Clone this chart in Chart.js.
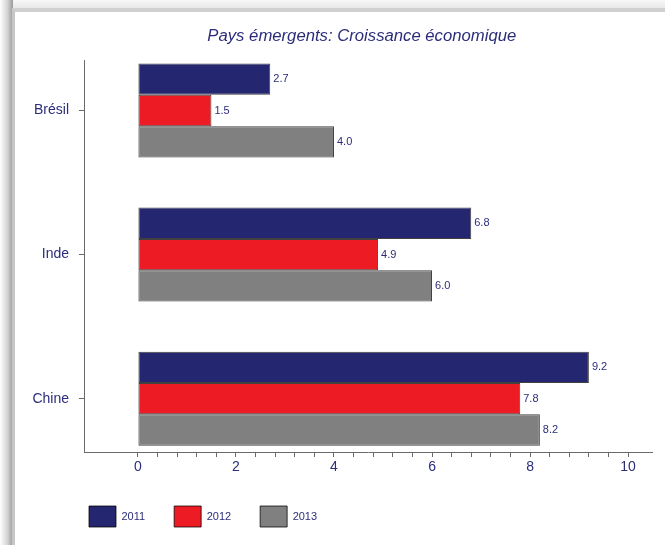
<!DOCTYPE html>
<html>
<head>
<meta charset="utf-8">
<script src="https://cdn.jsdelivr.net/npm/chart.js@4/dist/chart.umd.min.js"></script>
<style>
  html, body { margin:0; padding:0; background:#ffffff; width:665px; height:545px; overflow:hidden; }
  #topband { position:absolute; left:0; top:0; width:665px; height:9px;
    background:linear-gradient(to bottom,#f7f7f7,#e6e6e6); }
  #leftband { position:absolute; left:0; top:0; width:13px; height:545px;
    background:linear-gradient(to right,#ffffff,#d6d6d6 55%,#9a9a9a); }
  #panel { position:absolute; left:12px; top:8px; width:650px; height:545px; background:#ffffff;
    border-top:4px solid #d0d0d0; border-left:3px solid #c6c6c6; border-right:1px solid #dcdcdc; }
  #wrap { position:absolute; left:0; top:0; width:665px; height:545px; }
</style>
</head>
<body>
<div id="topband"></div>
<div id="leftband"></div>
<div id="panel"></div>
<div id="wrap"><canvas id="c" width="665" height="545"></canvas></div>
<script>
const categories = ["Brésil", "Inde", "Chine"];
const seriesNames = ["2011", "2012", "2013"];
const values2011 = [2.7, 6.8, 9.2];
const values2012 = [1.5, 4.9, 7.8];
const values2013 = [4.0, 6.0, 8.2];
const xTickLabels = [0, 2, 4, 6, 8, 10];
const xMinorStep = 0.4;

const NAVY_TEXT = '#2b2d7a';
const FONT = "'Liberation Sans', Arial, sans-serif";
const colors = ['#252670', '#ed1c24', '#808080'];
const allValues = [values2011, values2012, values2013];

const datasets = allValues.map((vals, s) => ({
  label: seriesNames[s],
  data: vals.map((v, i) => ({ x: v, y: i })),
  backgroundColor: colors[s],
  borderColor: 'rgba(0,0,0,0.75)',
  borderWidth: 1,
  borderSkipped: false,
  categoryPercentage: 0.652,
  barPercentage: 1.0
}));

const valueLabels = {
  id: 'valueLabels',
  afterDatasetsDraw(chart) {
    const ctx = chart.ctx;
    ctx.save();
    ctx.font = '11px ' + FONT;
    ctx.fillStyle = NAVY_TEXT;
    ctx.textAlign = 'left';
    ctx.textBaseline = 'middle';
    chart.data.datasets.forEach((ds, di) => {
      const meta = chart.getDatasetMeta(di);
      meta.data.forEach((el, i) => {
        ctx.fillText(ds.data[i].x.toFixed(1), el.x + 3, el.y);
      });
    });
    ctx.restore();
  }
};

// shift title and legend boxes horizontally after layout
const boxShift = {
  id: 'boxShift',
  afterLayout(chart) {
    if (chart.legend) chart.legend.left = 60;
    if (chart.titleBlock) chart.titleBlock.left = 71;
  }
};

const firstLabel = xTickLabels[0];
const lastLabel = xTickLabels[xTickLabels.length - 1];

new Chart(document.getElementById('c'), {
  type: 'bar',
  data: { datasets },
  options: {
    indexAxis: 'y',
    responsive: false,
    animation: false,
    layout: { padding: { left: 20, right: 12.4, top: 0, bottom: 8 } },
    scales: {
      x: {
        type: 'linear',
        min: -1.1,
        max: 10.5,
        offset: false,
        afterBuildTicks(scale) {
          const t = [];
          const n = Math.round((lastLabel - firstLabel) / xMinorStep);
          for (let k = 0; k <= n; k++) {
            t.push({ value: Math.round((firstLabel + k * xMinorStep) * 1000) / 1000 });
          }
          scale.ticks = t;
        },
        afterFit(scale) { scale.height = 25; },
        ticks: {
          autoSkip: false,
          maxRotation: 0,
          padding: 2,
          color: NAVY_TEXT,
          font: { family: FONT, size: 14 },
          callback(v) {
            const lab = xTickLabels.find(t => Math.abs(t - v) < 1e-6);
            return lab === undefined ? '' : String(lab);
          }
        },
        grid: { display: true, offset: false, drawOnChartArea: false, drawTicks: true, tickLength: 5, color: '#6a6a6a', lineWidth: 1 },
        border: { display: true, color: '#6a6a6a', width: 1 }
      },
      y: {
        type: 'linear',
        reverse: true,
        offset: false,
        min: -0.35,
        max: 2.37,
        afterBuildTicks(scale) {
          scale.ticks = categories.map((c, i) => ({ value: i }));
        },
        afterFit(scale) { scale.width = 64; },
        ticks: {
          autoSkip: false,
          padding: 10,
          color: NAVY_TEXT,
          font: { family: FONT, size: 14 },
          callback(v) { return categories[v] !== undefined ? categories[v] : ''; }
        },
        grid: { display: true, offset: false, drawOnChartArea: false, drawTicks: true, tickLength: 5, color: '#6a6a6a', lineWidth: 1 },
        border: { display: true, color: '#6a6a6a', width: 1 }
      }
    },
    plugins: {
      title: {
        display: true,
        text: 'Pays émergents: Croissance économique',
        color: NAVY_TEXT,
        font: { family: FONT, size: 16.7, style: 'italic', weight: 'normal' },
        padding: { top: 26.8, bottom: 13.2 }
      },
      legend: {
        display: true,
        position: 'bottom',
        align: 'start',
        labels: {
          boxWidth: 27,
          boxHeight: 21,
          padding: 29,
          color: NAVY_TEXT,
          font: { family: FONT, size: 11 }
        }
      },
      tooltip: { enabled: false }
    }
  },
  plugins: [valueLabels, boxShift]
});
</script>
</body>
</html>
